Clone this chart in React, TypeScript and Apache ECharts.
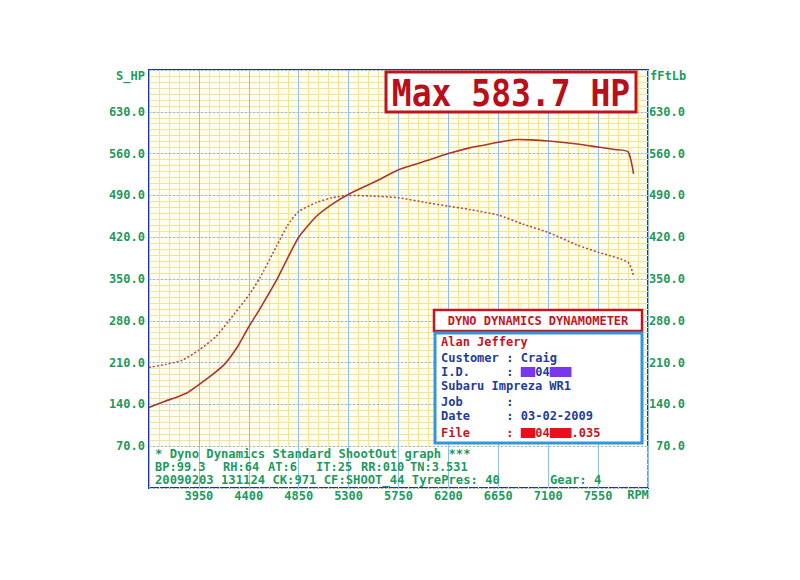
import { useEffect, useRef } from 'react';
import * as echarts from 'echarts';

// ---- data read from the dyno sheet ----
const powerRpm = [3500, 3640, 3760, 3850, 3950, 4060, 4180, 4300, 4400, 4500, 4650, 4750, 4850, 5010, 5150, 5300, 5550, 5750, 6000, 6200, 6400, 6520, 6650, 6820, 6950, 7100, 7360, 7550, 7700, 7820, 7870];
const powerHp = [135, 145, 153, 160, 173, 188, 207, 237, 270, 300, 348, 385, 420, 455, 475, 492, 514, 533, 548, 560, 570, 574, 579, 583.7, 583, 581, 576, 571, 567, 563, 526];

const torqueRpm = [3500, 3650, 3800, 3950, 4100, 4220, 4400, 4500, 4650, 4750, 4850, 5010, 5150, 5300, 5500, 5750, 6000, 6200, 6400, 6650, 6870, 7100, 7360, 7550, 7820, 7870];
const torqueFtLb = [202, 207, 214, 231, 253, 280, 323, 352, 405, 440, 463, 478, 486, 490, 489, 486, 478, 472, 466, 457, 442, 428, 407, 395, 378, 355];

const leftAxisName = 'S_HP';
const rightAxisName = 'fFtLb';
const xAxisName = 'RPM';
const maxText = 'Max 583.7 HP';

const legendTitle = 'DYNO DYNAMICS DYNAMOMETER';
const operatorName = 'Alan Jeffery';
const customerRow = ['Customer', 'Craig'];
const idRow = ['I.D.', '04'];
const vehicleRow = 'Subaru Impreza WR1';
const jobRow = ['Job', ''];
const dateRow = ['Date', '03-02-2009'];
const fileRow = ['File', '04', '.035'];

const infoLine1 = '* Dyno Dynamics Standard ShootOut graph ***';
const infoLine2 = ['BP:99.3', 'RH:64', 'AT:6', 'IT:25', 'RR:010', 'TN:3.531'];
const infoLine3 = ['20090203 131124 CK:971 CF:SHOOT_44 TyrePres: 40', 'Gear: 4'];

// ---- styles ----
const mono = '"DejaVu Sans Mono", "Liberation Mono", monospace';
const green = '#1d9a5e';
const gridBlue = '#8fbfea';
const minorYellow = '#f1e592';
const plotBg = '#fffdf2';
const frameBlue = '#1f33a8';
const curveRed = '#ad3529';
const legendRed = '#c8141e';
const legendBlue = '#233d96';
const boxBlue = '#2f97dc';

function txt(text: string, x: number, y: number, fill: string, extra: any = {}) {
  return {
    type: 'text',
    x,
    y,
    silent: true,
    z: 100,
    ...(extra.el || {}),
    style: {
      text,
      fill,
      fontFamily: mono,
      fontSize: 12,
      fontWeight: 'bold',
      align: extra.align || 'left',
      textAlign: extra.align || 'left',
      verticalAlign: 'middle',
      textVerticalAlign: 'middle',
      ...(extra.style || {}),
    },
  };
}

export default function App() {
  const ref = useRef<HTMLDivElement>(null);

  useEffect(() => {
    if (!ref.current) return;
    const chart = echarts.init(ref.current, null, { renderer: 'svg' });

    const cw = 7.25;
    const lx = 441;
    const colonX = lx + 9 * cw;
    const valX = lx + 11 * cw;
    const rowY = [342, 358, 372, 386, 402, 416, 433];

    const graphic: any[] = [
      txt(leftAxisName, 145, 76, green, { align: 'right' }),
      txt(rightAxisName, 650, 76, green),
      txt(xAxisName, 638, 495, green, { align: 'center' }),
      {
        type: 'rect', z: 90, silent: true,
        shape: { x: 386, y: 72, width: 250, height: 40 },
        style: { fill: '#ffffff', stroke: '#c0141c', lineWidth: 3 },
      },
      txt(maxText, 511, 93, '#b8101a', { align: 'center', el: { scaleY: 1.15 }, style: { fontSize: 33 } }),
      {
        type: 'rect', z: 90, silent: true,
        shape: { x: 434, y: 310, width: 208, height: 21 },
        style: { fill: '#ffffff', stroke: legendRed, lineWidth: 2.5 },
      },
      txt(legendTitle, 538, 320.5, legendRed, { align: 'center' }),
      {
        type: 'rect', z: 90, silent: true,
        shape: { x: 435, y: 333, width: 207, height: 110 },
        style: { fill: '#ffffff', stroke: boxBlue, lineWidth: 3 },
      },
      txt(operatorName, lx, rowY[0], legendRed),
      txt(customerRow[0], lx, rowY[1], legendBlue),
      txt(':', colonX, rowY[1], legendBlue),
      txt(customerRow[1], valX, rowY[1], legendBlue),
      txt(idRow[0], lx, rowY[2], legendBlue),
      txt(':', colonX, rowY[2], legendBlue),
      { type: 'rect', z: 95, silent: true, shape: { x: valX, y: rowY[2] - 5, width: 2 * cw, height: 10 }, style: { fill: '#7a38ec' } },
      txt(idRow[1], valX + 2 * cw, rowY[2], legendBlue),
      { type: 'rect', z: 95, silent: true, shape: { x: valX + 4 * cw, y: rowY[2] - 5, width: 3 * cw, height: 10 }, style: { fill: '#7a38ec' } },
      txt(vehicleRow, lx, rowY[3], legendBlue),
      txt(jobRow[0], lx, rowY[4], legendBlue),
      txt(':', colonX, rowY[4], legendBlue),
      txt(dateRow[0], lx, rowY[5], legendBlue),
      txt(':', colonX, rowY[5], legendBlue),
      txt(dateRow[1], valX, rowY[5], legendBlue),
      txt(fileRow[0], lx, rowY[6], legendRed),
      txt(':', colonX, rowY[6], legendRed),
      { type: 'rect', z: 95, silent: true, shape: { x: valX, y: rowY[6] - 5, width: 2 * cw, height: 10 }, style: { fill: '#e8101c' } },
      txt(fileRow[1], valX + 2 * cw, rowY[6], legendRed),
      { type: 'rect', z: 95, silent: true, shape: { x: valX + 4 * cw, y: rowY[6] - 5, width: 3 * cw, height: 10 }, style: { fill: '#e8101c' } },
      txt(fileRow[2], valX + 7 * cw, rowY[6], legendRed),
      txt(infoLine1, 155, 454, green, { style: { fontSize: 12.2 } }),
    ];
    const line2X = [155, 223, 268, 316, 361, 410];
    infoLine2.forEach((t, i) => graphic.push(txt(t, line2X[i], 467, green)));
    const line3X = [155, 550];
    infoLine3.forEach((t, i) => graphic.push(txt(t, line3X[i], 480, green, { style: { fontSize: 12.2 } })));

    const labelStyle = {
      color: green,
      fontFamily: mono,
      fontWeight: 'bold' as const,
      fontSize: 12,
    };
    const hidden = { axisLine: { show: false }, axisTick: { show: false }, axisLabel: { show: false } };

    chart.setOption({
      animation: false,
      backgroundColor: '#ffffff',
      grid: {
        left: 149,
        right: 152,
        top: 70,
        bottom: 92,
        show: true,
        backgroundColor: plotBg,
        borderColor: frameBlue,
        borderWidth: 2,
        containLabel: false,
      },
      xAxis: [
        {
          type: 'value',
          min: 3500,
          max: 8000,
          interval: 450,
          z: 2,
          axisLine: { show: false },
          axisTick: { show: false },
          axisLabel: {
            ...labelStyle,
            margin: 2,
            formatter: (v: number) => (v === 3500 || v === 8000 ? '' : String(v)),
          },
          splitLine: { show: true, lineStyle: { color: gridBlue, width: 1 } },
        },
        {
          type: 'value',
          position: 'top',
          min: 3500,
          max: 8000,
          interval: 90,
          z: 1,
          ...hidden,
          splitLine: { show: true, lineStyle: { color: minorYellow, width: 1 } },
        },
      ],
      yAxis: [
        {
          type: 'value',
          position: 'left',
          min: 0,
          max: 700,
          interval: 70,
          z: 2,
          axisLine: { show: false },
          axisTick: { show: false },
          axisLabel: {
            ...labelStyle,
            margin: 4,
            formatter: (v: number) => (v === 0 || v === 700 ? '' : v.toFixed(1)),
          },
          splitLine: { show: true, lineStyle: { color: gridBlue, width: 1, type: [2, 2] } },
        },
        {
          type: 'value',
          position: 'right',
          min: 0,
          max: 700,
          interval: 70,
          z: 2,
          axisLine: { show: false },
          axisTick: { show: false },
          axisLabel: {
            ...labelStyle,
            align: 'right',
            margin: 37,
            formatter: (v: number) => (v === 0 || v === 700 ? '' : v.toFixed(1)),
          },
          splitLine: { show: false },
        },
        {
          type: 'value',
          position: 'left',
          min: 0,
          max: 700,
          interval: 10,
          z: 1,
          ...hidden,
          splitLine: { show: true, lineStyle: { color: minorYellow, width: 1 } },
        },
      ],
      series: [
        {
          name: 'Power',
          type: 'line',
          xAxisIndex: 0,
          yAxisIndex: 0,
          data: powerRpm.map((r, i) => [r, powerHp[i]]),
          showSymbol: false,
          smooth: 0.2,
          lineStyle: { color: curveRed, width: 1.6 },
          z: 5,
          markArea: {
            silent: true,
            itemStyle: { color: '#ffffff', opacity: 1 },
            data: [[{ xAxis: 3505, yAxis: 2 }, { xAxis: 7995, yAxis: 69 }]],
          },
        },
        {
          name: 'Torque',
          type: 'line',
          xAxisIndex: 0,
          yAxisIndex: 1,
          data: torqueRpm.map((r, i) => [r, torqueFtLb[i]]),
          showSymbol: false,
          smooth: 0.2,
          lineStyle: { color: '#b4463a', width: 1.5, type: [2, 2] },
          z: 5,
        },
      ],
      graphic,
    });

    return () => chart.dispose();
  }, []);

  return (
    <div
      ref={ref}
      style={{ position: 'fixed', left: 0, top: 0, width: 800, height: 580, background: '#ffffff' }}
    />
  );
}
